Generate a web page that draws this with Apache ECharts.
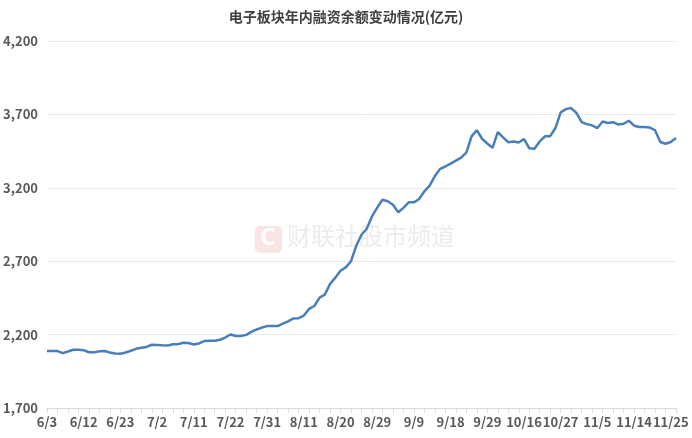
<!DOCTYPE html>
<html>
<head>
<meta charset="utf-8">
<script src="https://cdn.jsdelivr.net/npm/echarts@6/dist/echarts.min.js"></script>
<style>html,body{margin:0;padding:0;background:#fff}#c{width:692px;height:438px}</style>
</head>
<body>
<div id="c"></div>
<script>
var titleText = '电子板块年内融资余额变动情况(亿元)';
var watermarkText = '财联社股市频道';
var dates = [
'6/3','6/4','6/5','6/6','6/9','6/10','6/11','6/12','6/13','6/16','6/17','6/18','6/19','6/20','6/23','6/24','6/25','6/26','6/27','6/30',
'7/1','7/2','7/3','7/4','7/7','7/8','7/9','7/10','7/11','7/14','7/15','7/16','7/17','7/18','7/21','7/22','7/23','7/24','7/25','7/28','7/29','7/30','7/31',
'8/1','8/4','8/5','8/6','8/7','8/8','8/11','8/12','8/13','8/14','8/15','8/18','8/19','8/20','8/21','8/22','8/25','8/26','8/27','8/28','8/29',
'9/1','9/2','9/3','9/4','9/5','9/8','9/9','9/10','9/11','9/12','9/15','9/16','9/17','9/18','9/19','9/22','9/23','9/24','9/25','9/26','9/29','9/30',
'10/9','10/10','10/13','10/14','10/15','10/16','10/17','10/20','10/21','10/22','10/23','10/24','10/27','10/28','10/29','10/30','10/31',
'11/3','11/4','11/5','11/6','11/7','11/10','11/11','11/12','11/13','11/14','11/17','11/18','11/19','11/20','11/21','11/24','11/25','11/26'
];
var balance = [
2088,2088,2088,2074,2085,2097,2096,2094,2080,2079,2086,2088,2078,2071,2069,2078,2090,2103,2110,2116,
2131,2130,2127,2125,2134,2135,2144,2143,2133,2140,2156,2158,2158,2165,2180,2201,2190,2190,2198,2218,
2235,2248,2258,2258,2258,2275,2290,2310,2312,2330,2375,2395,2452,2472,2545,2588,2635,2658,2700,2805,
2880,2921,3005,3065,3119,3108,3085,3033,3063,3101,3101,3124,3176,3215,3280,3329,3345,3365,3385,3405,
3440,3550,3592,3534,3502,3472,3579,3543,3510,3516,3509,3532,3470,3466,3516,3551,3552,3607,3714,3736,
3743,3710,3647,3634,3625,3607,3652,3641,3647,3631,3636,3657,3623,3614,3614,3610,3592,3512,3500,3512,
3539
];
var yMin = 1700, yMax = 4200, yStep = 500;

var chart = echarts.init(document.getElementById('c'), null, {renderer: 'canvas'});
var fam = '"Noto Sans CJK SC","Noto Sans",sans-serif';
chart.setOption({
  animation: false,
  backgroundColor: '#ffffff',
  title: {
    text: titleText, left: 'center', top: 5,
    textStyle: {fontFamily: fam, fontSize: 14, fontWeight: 'bold', color: '#404040'}
  },
  graphic: [
    {type: 'rect', left: 255, top: 226, shape: {width: 27, height: 27, r: 5}, style: {fill: '#fbe4e4'}, z: 0},
    {type: 'text', left: 260, top: 226, style: {text: 'C', font: 'bold 24px "Noto Sans"', fill: '#ffffff'}, z: 1},
    {type: 'text', left: 287, top: 224, style: {text: watermarkText, font: '24px "Noto Sans CJK SC"', fill: '#ececec'}, z: 0}
  ],
  grid: {left: 47, right: 16, top: 41, bottom: 30, containLabel: false},
  xAxis: {
    type: 'category', data: dates, boundaryGap: false,
    axisLine: {lineStyle: {color: '#d9d9d9'}},
    axisTick: {show: true, interval: 1, length: 5, lineStyle: {color: '#d9d9d9'}},
    axisLabel: {interval: 6, color: '#595959', fontFamily: fam, fontSize: 13, fontWeight: 'bold', margin: 8}
  },
  yAxis: {
    type: 'value', min: yMin, max: yMax, interval: yStep,
    axisLine: {show: false}, axisTick: {show: false},
    splitLine: {lineStyle: {color: '#e8e8e8'}},
    axisLabel: {color: '#595959', fontFamily: fam, fontSize: 13, fontWeight: 'bold', margin: 9,
      formatter: function (v) { return v.toLocaleString('en-US'); }}
  },
  series: [{
    type: 'line', data: balance, showSymbol: false, symbol: 'none',
    lineStyle: {color: '#4a7ebb', width: 2.5}, z: 3
  }]
});
</script>
</body>
</html>
